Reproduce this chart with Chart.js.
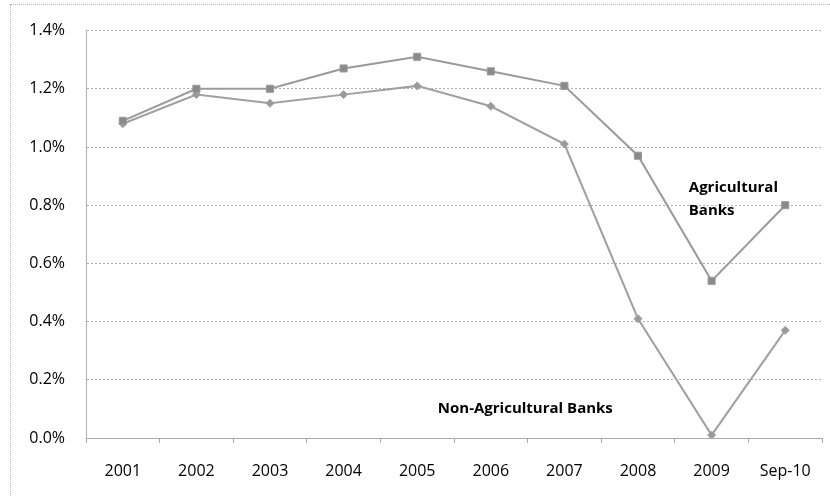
<!DOCTYPE html>
<html>
<head>
<meta charset="utf-8">
<script src="https://cdn.jsdelivr.net/npm/chart.js@4"></script>
<style>
  html, body { margin: 0; padding: 0; background: #fff; }
  #wrap { position: relative; width: 830px; height: 496px; overflow: hidden; }
  #frame { position: absolute; left: 10px; top: 4px; width: 840px; height: 520px; border: 1px dotted #b5b5b5; box-sizing: border-box; }
  canvas { position: absolute; left: 0; top: 0; }
</style>
</head>
<body>
<div id="wrap">
  <div id="frame"></div>
  <canvas id="chart" width="830" height="496"></canvas>
</div>
<script>
// categories and values (percent)
const years = ['2001', '2002', '2003', '2004', '2005', '2006', '2007', '2008', '2009', 'Sep-10'];
const agBanks = [1.09, 1.20, 1.20, 1.27, 1.31, 1.26, 1.21, 0.97, 0.54, 0.80];
const nonAgBanks = [1.08, 1.18, 1.15, 1.18, 1.21, 1.14, 1.01, 0.41, 0.01, 0.37];
const yTicks = [0, 0.2, 0.4, 0.6, 0.8, 1.0, 1.2, 1.4];

// label text, left edge in data coords (category index, value)
const notes = [
    { text: 'Agricultural', x: 7.69, y: 0.86 },
    { text: 'Banks', x: 7.69, y: 0.78 },
    { text: 'Non-Agricultural Banks', x: 4.28, y: 0.10 }
];

const fontFam = "'Open Sans', 'Liberation Sans', sans-serif";

const notePlugin = {
    id: 'notes',
    afterDatasetsDraw(chart) {
        const c = chart.ctx;
        const xs = chart.scales.x, ys = chart.scales.y;
        c.save();
        c.font = 'bold 15px ' + fontFam;
        c.fillStyle = '#000';
        c.textAlign = 'left';
        c.textBaseline = 'middle';
        notes.forEach(n => {
            const i = Math.floor(n.x);
            const x0 = xs.getPixelForValue(i);
            const x1 = xs.getPixelForValue(i + 1);
            const px = x0 + (x1 - x0) * (n.x - i);
            c.fillText(n.text, px, ys.getPixelForValue(n.y));
        });
        c.restore();
    }
};

const ctx = document.getElementById('chart').getContext('2d');
new Chart(ctx, {
    type: 'line',
    data: {
        labels: years,
        datasets: [
            {
                label: 'Agricultural Banks',
                data: agBanks,
                borderColor: '#9a9a9a',
                backgroundColor: '#8a8a8a',
                borderWidth: 2,
                pointStyle: 'rect',
                pointRadius: 5,
                pointBorderColor: '#9a9a9a',
                pointBorderWidth: 1
            },
            {
                label: 'Non-Agricultural Banks',
                data: nonAgBanks,
                borderColor: '#a0a0a0',
                backgroundColor: '#9a9a9a',
                borderWidth: 2,
                pointStyle: 'rectRot',
                pointRadius: 4,
                pointBorderColor: '#a0a0a0',
                pointBorderWidth: 1
            }
        ]
    },
    options: {
        responsive: false,
        animation: false,
        layout: { padding: { left: 0, right: 4, top: 24, bottom: 0 } },
        plugins: {
            legend: { display: false },
            tooltip: { enabled: false }
        },
        scales: {
            x: {
                offset: true,
                afterFit(scale) { scale.height = 58; },
                grid: {
                    offset: true,
                    drawOnChartArea: false,
                    color: '#aaa',
                    tickLength: 5
                },
                border: { color: '#aaa', dash: [2, 1] },
                ticks: {
                    color: '#000',
                    font: { family: fontFam, size: 16 },
                    padding: 19,
                    maxRotation: 0
                }
            },
            y: {
                min: 0,
                max: 1.4,
                afterFit(scale) { scale.width = 86; },
                afterBuildTicks(scale) { scale.ticks = yTicks.map(v => ({ value: v })); },
                grid: { color: '#b0b0b0', drawTicks: false },
                border: { color: '#b0b0b0', dash: [2, 2] },
                ticks: {
                    color: '#000',
                    font: { family: fontFam, size: 16 },
                    padding: 21,
                    callback: v => Number(v).toFixed(1) + '%'
                }
            }
        }
    },
    plugins: [notePlugin]
});
</script>
</body>
</html>
